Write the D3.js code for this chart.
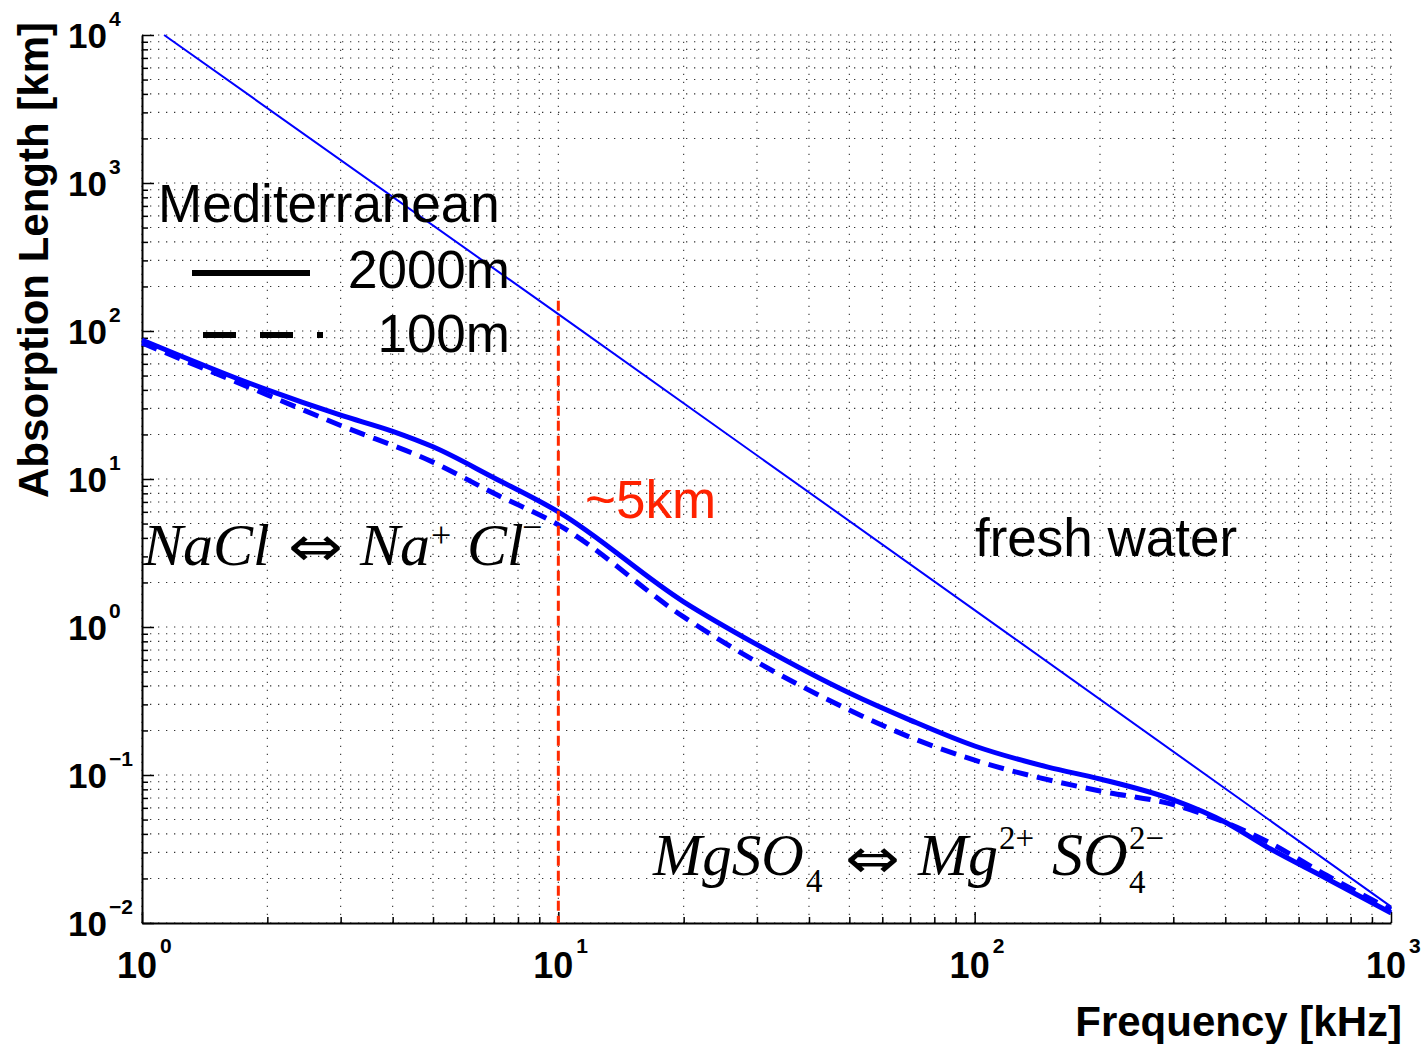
<!DOCTYPE html>
<html><head><meta charset="utf-8">
<script src="https://cdn.jsdelivr.net/npm/d3@7"></script>
<style>body{margin:0;background:#fff}svg{display:block}</style>
</head><body>
<svg id="c" width="1427" height="1044"></svg>
<script>
// ---- data ----
const freqTicks = [1, 10, 100, 1000];
const freqTickExps = ["0", "1", "2", "3"];
const lenTicks = [1e-2, 1e-1, 1, 10, 100, 1000, 10000];
const lenTickExps = ["\u22122", "\u22121", "0", "1", "2", "3", "4"];

const freshF = [1.13, 10, 100, 1000];
const freshL = [10000, 130, 1.3, 0.0129];

const med2000F = [1, 2, 3, 4, 5, 7, 10, 20, 30, 50, 70, 100, 150, 200, 300, 400, 500, 700, 1000];
const med2000L = [87, 40, 27, 21, 16.5, 10.2, 6.0, 1.48, 0.76, 0.358, 0.235, 0.157, 0.113, 0.094, 0.068, 0.048, 0.033, 0.020, 0.0117];

const med100F = [1, 2, 3, 5, 7, 10, 20, 30, 50, 70, 100, 200, 300, 500, 700, 1000];
const med100L = [83, 37, 23, 13, 8.0, 4.9, 1.17, 0.58, 0.275, 0.18, 0.126, 0.078, 0.063, 0.036, 0.021, 0.0123];

const markerFreq = [10];
const markerRange = [0.01, 160];

// ---- layout ----
const svg = d3.select("#c");
const x = d3.scaleLog().domain([1, 1000]).range([142, 1391]);
const y = d3.scaleLog().domain([0.01, 10000]).range([923, 35]);
const X0 = x.range()[0], X1 = x.range()[1], Y0 = y.range()[0], Y1 = y.range()[1];

// grid
const xAll = x.ticks();
const yAll = y.ticks();
const grid = svg.append("g");
grid.selectAll("line.v").data(xAll).join("line")
  .attr("x1", d => x(d)).attr("x2", d => x(d)).attr("y1", Y0).attr("y2", Y1)
  .attr("stroke", "#333").attr("stroke-width", 1.1).attr("stroke-dasharray", "1.3,6.7");
grid.selectAll("line.h").data(yAll).join("line")
  .attr("y1", d => y(d)).attr("y2", d => y(d)).attr("x1", X0).attr("x2", X1)
  .attr("stroke", "#333").attr("stroke-width", 1.1).attr("stroke-dasharray", "1.3,6.7");

// axes
const majorX = new Set(freqTicks), majorY = new Set(lenTicks.map(v => +v.toPrecision(3)));
const gx = svg.append("g").attr("transform", `translate(0,${Y0})`)
  .call(d3.axisBottom(x).tickValues(xAll).tickSizeOuter(0).tickFormat("").tickSizeInner(0));
gx.selectAll(".tick line").attr("y2", d => majorX.has(d) ? -11 : -6).attr("stroke", "#000").attr("stroke-width", 1.5);
gx.select(".domain").attr("stroke", "#000").attr("stroke-width", 2);

const gy = svg.append("g").attr("transform", `translate(${X0},0)`)
  .call(d3.axisLeft(y).tickValues(yAll).tickSizeOuter(0).tickFormat("").tickSizeInner(0));
gy.selectAll(".tick line").attr("x2", d => majorY.has(+d.toPrecision(3)) ? 12 : 6).attr("stroke", "#000").attr("stroke-width", 1.5);
gy.select(".domain").attr("stroke", "#000").attr("stroke-width", 2);

// tick labels
const lab = svg.append("g").attr("font-family", "Liberation Sans, Arial, sans-serif").attr("font-weight", "bold").attr("fill", "#000");
lenTicks.forEach((v, i) => {
  lab.append("text").attr("x", 107).attr("y", y(v) + 13).attr("font-size", 35).attr("text-anchor", "end").text("10");
  lab.append("text").attr("x", 109).attr("y", y(v) - 9).attr("font-size", 21).text(lenTickExps[i]);
});
freqTicks.forEach((v, i) => {
  lab.append("text").attr("x", x(v) + 15).attr("y", 978).attr("font-size", 36).attr("text-anchor", "end").text("10");
  lab.append("text").attr("x", x(v) + 18).attr("y", 953).attr("font-size", 21).text(freqTickExps[i]);
});

// axis titles
lab.append("text").attr("transform", "translate(48,260) rotate(-90)").attr("text-anchor", "middle")
  .attr("font-size", 42).text("Absorption Length [km]");
lab.append("text").attr("x", 1402).attr("y", 1036).attr("text-anchor", "end")
  .attr("font-size", 42).text("Frequency [kHz]");

// series
const line = d3.line().x(d => x(d[0])).y(d => y(d[1]));
svg.append("path").datum(d3.zip(freshF, freshL)).attr("d", line)
  .attr("fill", "none").attr("stroke", "#0000ff").attr("stroke-width", 2);
svg.append("path").datum(d3.zip(med2000F, med2000L)).attr("d", line.curve(d3.curveMonotoneX))
  .attr("fill", "none").attr("stroke", "#0000ff").attr("stroke-width", 5);
svg.append("path").datum(d3.zip(med100F, med100L)).attr("d", line.curve(d3.curveMonotoneX))
  .attr("fill", "none").attr("stroke", "#0000ff").attr("stroke-width", 5).attr("stroke-dasharray", "16,9");

// red marker
svg.append("line").attr("x1", x(markerFreq[0])).attr("x2", x(markerFreq[0]))
  .attr("y1", y(markerRange[1])).attr("y2", y(markerRange[0]))
  .attr("stroke", "#ff2a00").attr("stroke-width", 3).attr("stroke-dasharray", "10,5");

// annotations
const ann = svg.append("g").attr("font-family", "Liberation Sans, Arial, sans-serif");
ann.append("text").attr("x", 585).attr("y", 518).attr("font-size", 53).attr("fill", "#ff2200").text("~5km");
ann.append("text").attr("x", 975).attr("y", 556).attr("font-size", 53).attr("fill", "#000").text("fresh water");

// legend
ann.append("text").attr("x", 158).attr("y", 222).attr("font-size", 53).text("Mediterranean");
svg.append("line").attr("x1", 192).attr("x2", 310).attr("y1", 273).attr("y2", 273).attr("stroke", "#000").attr("stroke-width", 6);
svg.append("line").attr("x1", 203).attr("x2", 323).attr("y1", 335).attr("y2", 335).attr("stroke", "#000").attr("stroke-width", 6).attr("stroke-dasharray", "33,24");
ann.append("text").attr("x", 510).attr("y", 288).attr("font-size", 53).attr("text-anchor", "end").text("2000m");
ann.append("text").attr("x", 510).attr("y", 352).attr("font-size", 53).attr("text-anchor", "end").text("100m");

// chemical equations
const eq = svg.append("g").attr("font-family", "Liberation Serif, Times New Roman, serif").attr("fill", "#000");
function part(xx, yy, size, str, italic) {
  return eq.append("text").attr("x", xx).attr("y", yy).attr("font-size", size)
   .attr("font-style", italic ? "italic" : "normal").text(str);
}
function arrow(xx, yy) {
  return eq.append("text").attr("x", xx).attr("y", yy).attr("font-size", 56)
    .attr("font-family", "DejaVu Sans, sans-serif").attr("textLength", 55)
    .attr("lengthAdjust", "spacingAndGlyphs").text("\u21D4");
}
part(143, 565, 60, "NaCl", true);
arrow(288, 566);
part(360, 565, 60, "Na", true);
part(431, 547, 36, "+", false);
part(467, 565, 60, "Cl", true);
part(522, 539, 36, "\u2212", false);

part(653, 875, 59, "MgSO", true);
part(806, 892, 33, "4", false);
arrow(845, 878);
part(918, 875, 60, "Mg", true);
part(999, 849, 33, "2+", false);
part(1052, 875, 62, "SO", true);
part(1129, 893, 33, "4", false);
part(1129, 849, 33, "2\u2212", false);
</script>
</body></html>
